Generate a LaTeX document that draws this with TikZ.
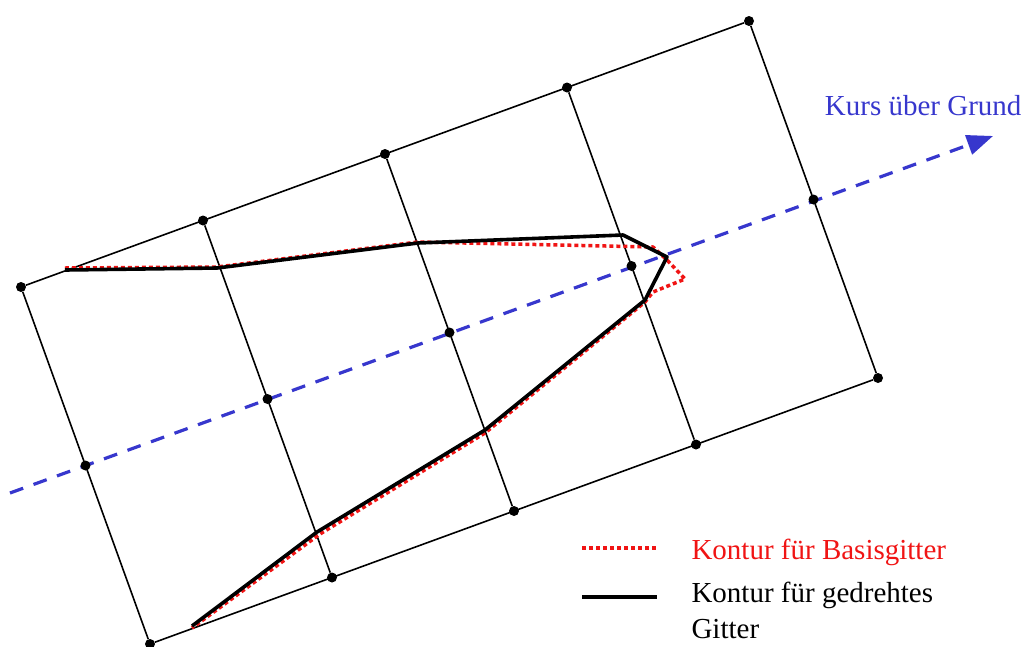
\documentclass[tikz,border=0pt]{standalone}
\usepackage{fontspec}
\setmainfont{Liberation Serif}
\usetikzlibrary{arrows.meta,calc}
\definecolor{kursblau}{RGB}{55,55,205}
\definecolor{konturrot}{RGB}{240,20,20}

\begin{document}
\begin{tikzpicture}[x=1pt,y=-1pt, font=\fontsize{29}{35}\selectfont,
  knot/.style={circle,fill,inner sep=0pt,minimum size=10pt},
  gitter/.style={line width=1.6pt},
  kurs/.style={kursblau,line width=3.2pt,dash pattern=on 14pt off 11pt,-{Triangle[length=26pt,width=20pt]}},
  basis/.style={konturrot,line width=3.5pt,dash pattern=on 4pt off 3pt},
  gedreht/.style={line width=3.6pt,line join=round}]
  \useasboundingbox (0,0) rectangle (1028,646);
  % Kurs ueber Grund
  \coordinate (ka) at (10,493); \coordinate (kb) at (993,136);
  \draw[kurs] (ka)--(kb);
  \node[kursblau,anchor=base east] (kurstext) at (1025,115) {Kurs über Grund};
  % Gitter
  \foreach \i in {0,...,4}
    \foreach \j in {0,1,2}
      \node[knot] (g\i\j) at ({21+182*\i+64.5*\j},{287-66.5*\i+178.5*\j}) {};
  \draw[gitter] (g00)--(g40);
  \draw[gitter] (g02)--(g42);
  \foreach \i in {0,...,4} \draw[gitter] (g\i0)--(g\i2);
  % Konturen
  \draw[basis] (65,268)--(217,267)--(418,242)--(653,247)--(668,261)--(685,279)--(653,292)
    --(645,302)--(485,433)--(320,534)--(192,628);
  \draw[gedreht] (65,270)--(217,268)--(418,243)--(623,235)--(667,257)--(645,300)
    --(485,430)--(317,532)--(192,626);
  % Legende
  \coordinate (lr1) at (582,548); \coordinate (lr2) at (657,548);
  \coordinate (ls1) at (582,597); \coordinate (ls2) at (657,597);
  \draw[basis] (lr1)--(lr2);
  \draw[gedreht,line cap=butt] (ls1)--(ls2);
  \node[konturrot,anchor=base west] (legbasis) at (688,559) {Kontur für Basisgitter};
  \node[anchor=base west] (leggedreht) at (688,602) {Kontur für gedrehtes};
  \node[anchor=base west] (leggitter) at (688,638) {Gitter};
\end{tikzpicture}
\end{document}
